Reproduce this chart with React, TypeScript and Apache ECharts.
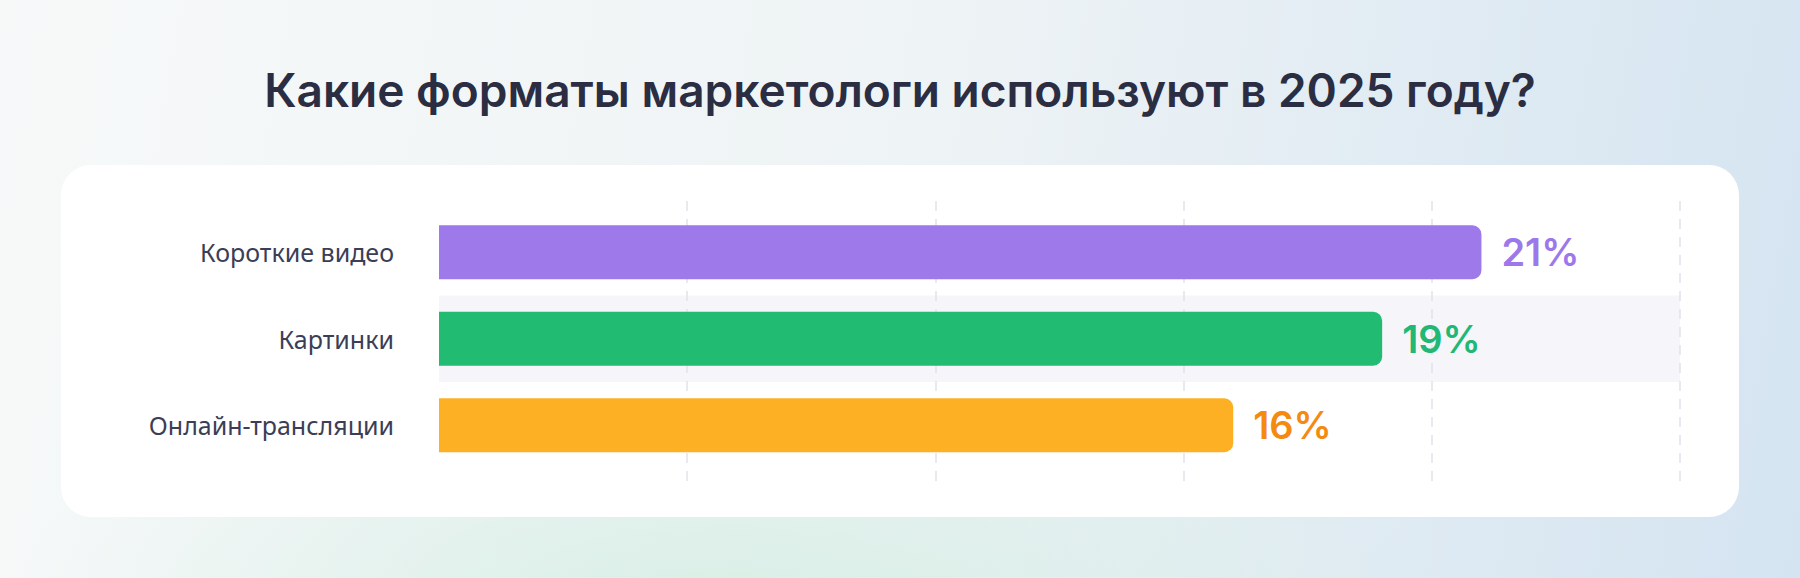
import React, { useEffect, useRef } from 'react';
import * as echarts from 'echarts';

// данные
const categories = ['Короткие видео', 'Картинки', 'Онлайн-трансляции'];
const values = [21, 19, 16];
const barColors = ['#9e79ea', '#21bb72', '#fdb023'];
const labelColors = ['#9c78ea', '#20b874', '#f48a10'];
const axisMax = 25;
const axisStep = 5;
const highlightIndex = 1;

const App = () => {
    const chartRef = useRef(null);

    useEffect(() => {
        const chart = echarts.init(chartRef.current, null, { renderer: 'svg' });

        const options = {
            animation: false,
            backgroundColor: 'transparent',
            title: {
                text: 'Какие форматы маркетологи используют в 2025 году?',
                left: 'center',
                top: 62,
                textStyle: {
                    fontFamily: 'Inter',
                    fontSize: 46,
                    fontWeight: 600,
                    color: '#2b2d42'
                }
            },
            graphic: [{
                type: 'rect',
                z: -10,
                shape: { x: 61, y: 165, width: 1678, height: 352, r: 30 },
                style: { fill: '#ffffff' }
            }],
            grid: [
                { left: 439, right: 120, top: 209, height: 259.5, containLabel: false },
                { left: 439, right: 120, top: 201, height: 281, containLabel: false }
            ],
            xAxis: [
                { gridIndex: 0, type: 'value', min: 0, max: axisMax, interval: axisStep, show: false },
                {
                    gridIndex: 1,
                    type: 'value',
                    min: 0,
                    max: axisMax,
                    interval: axisStep,
                    z: 1,
                    axisLine: { show: false },
                    axisTick: { show: false },
                    axisLabel: { show: false },
                    splitLine: {
                        show: true,
                        showMinLine: false,
                        lineStyle: { color: '#e2e3ea', width: 1.5, type: [10, 8] }
                    }
                }
            ],
            yAxis: [
                {
                    gridIndex: 0,
                    type: 'category',
                    data: categories,
                    inverse: true,
                    axisLine: { show: false },
                    axisTick: { show: false },
                    splitLine: { show: false },
                    axisLabel: {
                        margin: 45,
                        fontFamily: 'Noto Sans',
                        fontSize: 25,
                        color: '#3b3e56'
                    }
                },
                { gridIndex: 0, type: 'category', data: categories, inverse: true, show: false },
                { gridIndex: 1, type: 'value', show: false }
            ],
            series: [
                {
                    // подсветка строки
                    type: 'bar',
                    xAxisIndex: 0,
                    yAxisIndex: 1,
                    silent: true,
                    z: 0,
                    barWidth: '100%',
                    data: categories.map((c, i) => (i === highlightIndex ? axisMax : '-')),
                    itemStyle: { color: '#f5f5fa' }
                },
                {
                    type: 'bar',
                    xAxisIndex: 0,
                    yAxisIndex: 0,
                    z: 2,
                    barWidth: 54,
                    data: values.map((v, i) => ({
                        value: v,
                        itemStyle: { color: barColors[i], borderRadius: [0, 9, 9, 0] },
                        label: { color: labelColors[i] }
                    })),
                    label: {
                        show: true,
                        position: 'right',
                        distance: 20,
                        formatter: '{c}%',
                        fontFamily: 'Inter',
                        fontSize: 38,
                        fontWeight: 600
                    }
                }
            ]
        };

        chart.setOption(options);

        return () => {
            chart.dispose();
        };
    }, []);

    return (
        <div
            ref={chartRef}
            style={{
                position: 'fixed',
                left: 0,
                top: 0,
                width: '1800px',
                height: '578px',
                background:
                    'radial-gradient(ellipse 40% 45% at 40% 105%, rgba(214,238,228,0.9), rgba(214,238,228,0)), ' +
                    'linear-gradient(100deg, #f7f9f9 0%, #eef3f5 50%, #d4e4f1 100%)'
            }}
        ></div>
    );
};

export default App;
